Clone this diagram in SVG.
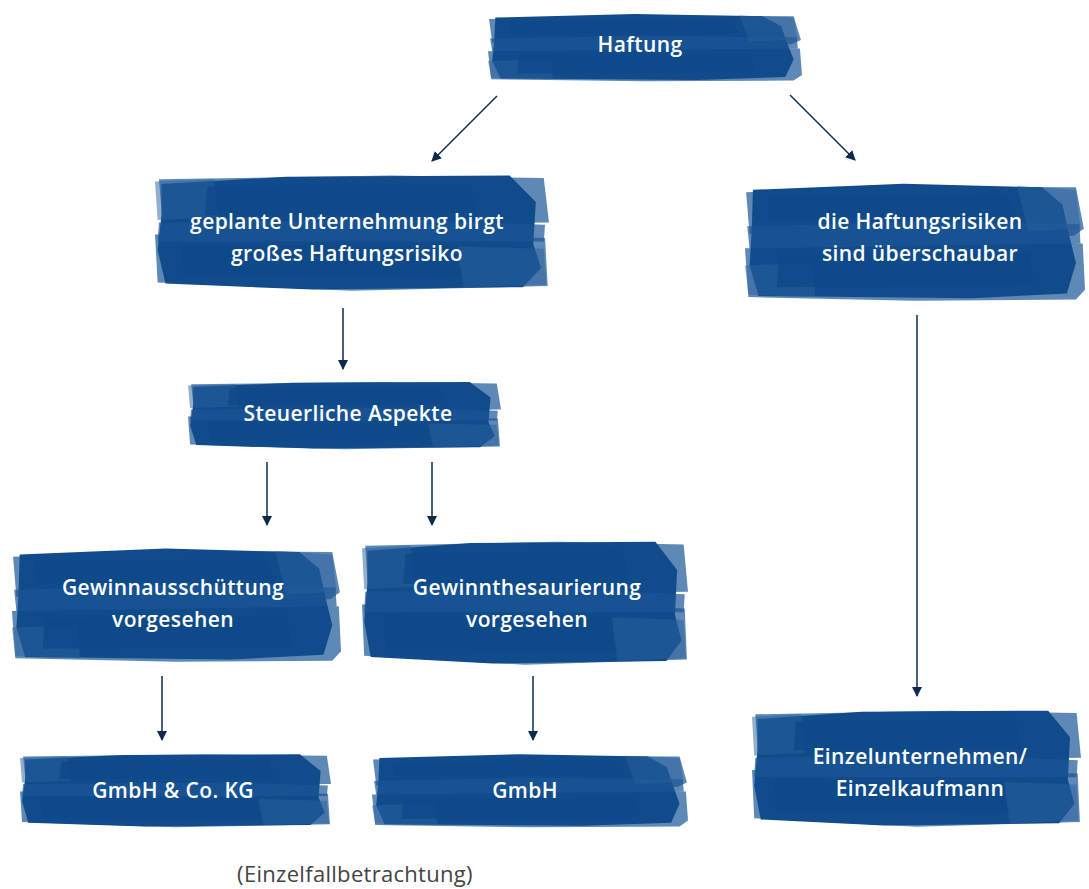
<svg xmlns="http://www.w3.org/2000/svg" xmlns:xlink="http://www.w3.org/1999/xlink" width="1089" height="889" viewBox="0 0 1089 889">
<style>
.t{font-family:"Open Sans","Liberation Sans",sans-serif;font-weight:600;font-size:21px;letter-spacing:0.4px;fill:#ffffff;text-anchor:middle}
.c{stroke:#0b2b4c;stroke-width:1.5;fill:none;marker-end:url(#ah)}
.note{font-family:"Open Sans","Liberation Sans",sans-serif;font-size:22px;letter-spacing:0.3px;fill:#444;text-anchor:middle}
</style>
<defs>
<marker id="ah" viewBox="0 0 10 10" refX="9" refY="5" markerWidth="10" markerHeight="10" markerUnits="userSpaceOnUse" orient="auto">
<path d="M0,0 L10,5 L0,10 z" fill="#0b2b4c"/>
</marker>
<symbol id="brush" viewBox="0 0 300 100" preserveAspectRatio="none">
<polygon fill="#4c7cae" opacity=".9" points="1,10 120,5 292,6 299,40 290,46 4,44"/>
<polygon fill="#4c7cae" opacity=".9" points="0,56 180,50 298,52 300,90 292,98 150,99 3,96"/>
<polygon fill="#104c8c" points="7,8 140,3 262,6 280,20 286,45 292,68 284,93 200,97 12,95 4,70 6,40"/>
<polygon fill="#1b5594" opacity=".7" points="2,38 150,34 295,36 296,52 4,56"/>
<polygon fill="#2a609b" opacity=".5" points="240,5 292,8 296,40 250,42"/>
<polygon fill="#2a609b" opacity=".5" points="0,70 60,68 62,96 3,94"/>
<polygon fill="#0e4a8a" opacity=".8" points="20,14 230,12 240,30 22,32"/>
<polygon fill="#0e4a8a" opacity=".8" points="30,62 250,60 255,86 28,88"/>
</symbol>
<symbol id="brush2" viewBox="0 0 300 100" preserveAspectRatio="none">
<polygon fill="#4c7cae" opacity=".9" points="3,6 180,3 296,5 300,42 6,46"/>
<polygon fill="#4c7cae" opacity=".9" points="0,52 120,49 297,55 299,95 150,99 2,92"/>
<polygon fill="#104c8c" points="5,10 100,4 270,3 290,25 288,60 294,80 280,96 120,98 8,93 2,65 5,35"/>
<polygon fill="#1b5594" opacity=".7" points="3,42 200,40 297,44 296,58 2,58"/>
<polygon fill="#2a609b" opacity=".5" points="0,8 45,6 48,38 2,40"/>
<polygon fill="#2a609b" opacity=".5" points="230,62 296,64 298,94 235,96"/>
<polygon fill="#0e4a8a" opacity=".8" points="40,12 240,10 245,34 38,36"/>
<polygon fill="#0e4a8a" opacity=".8" points="20,60 230,62 232,88 22,86"/>
</symbol>
</defs>
<rect width="1089" height="889" fill="#ffffff"/>
<g id="connectors">
<line class="c" x1="497" y1="96" x2="432" y2="161"/>
<line class="c" x1="790" y1="95" x2="855" y2="160"/>
<line class="c" x1="343" y1="308" x2="343" y2="369"/>
<line class="c" x1="267" y1="462" x2="267" y2="525"/>
<line class="c" x1="432" y1="462" x2="432" y2="525"/>
<line class="c" x1="162" y1="676" x2="162" y2="740"/>
<line class="c" x1="533" y1="676" x2="533" y2="740"/>
<line class="c" x1="917" y1="315" x2="917" y2="696"/>
</g>
<g id="n-haftung">
<use xlink:href="#brush" x="488" y="12" width="314" height="70"/>
<text class="t" x="640" y="52">Haftung</text>
</g>
<g id="n-gross">
<use xlink:href="#brush2" x="155" y="172" width="394" height="120"/>
<text class="t" x="347" y="229">geplante Unternehmung birgt</text>
<text class="t" x="347" y="261">großes Haftungsrisiko</text>
</g>
<g id="n-ueberschaubar">
<use xlink:href="#brush" x="745" y="180" width="340" height="122"/>
<text class="t" x="920" y="229">die Haftungsrisiken</text>
<text class="t" x="920" y="261">sind überschaubar</text>
</g>
<g id="n-steuer">
<use xlink:href="#brush2" x="188" y="380" width="313" height="70"/>
<text class="t" x="348" y="421">Steuerliche Aspekte</text>
</g>
<g id="n-ausschuettung">
<use xlink:href="#brush" x="12" y="545" width="329" height="118"/>
<text class="t" x="173" y="595">Gewinnausschüttung</text>
<text class="t" x="173" y="627">vorgesehen</text>
</g>
<g id="n-thesaurierung">
<use xlink:href="#brush2" x="362" y="538" width="326" height="128"/>
<text class="t" x="527" y="595">Gewinnthesaurierung</text>
<text class="t" x="527" y="627">vorgesehen</text>
</g>
<g id="n-gmbhcokg">
<use xlink:href="#brush2" x="20" y="752" width="311" height="76"/>
<text class="t" x="173" y="798">GmbH &amp; Co. KG</text>
</g>
<g id="n-gmbh">
<use xlink:href="#brush" x="372" y="752" width="316" height="76"/>
<text class="t" x="525" y="798">GmbH</text>
</g>
<g id="n-einzel">
<use xlink:href="#brush2" x="752" y="707" width="329" height="121"/>
<text class="t" x="920" y="764">Einzelunternehmen/</text>
<text class="t" x="920" y="796">Einzelkaufmann</text>
</g>
<text class="note" x="355" y="882">(Einzelfallbetrachtung)</text>
</svg>
